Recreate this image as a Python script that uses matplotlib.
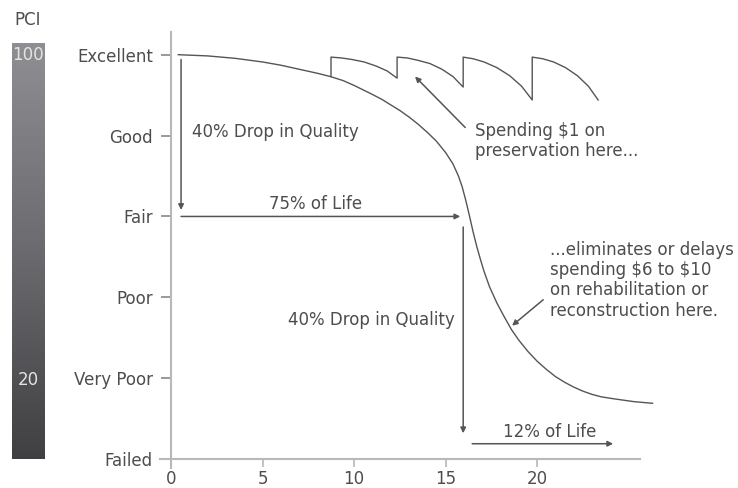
import numpy as np
import matplotlib
matplotlib.use("Agg")
import matplotlib.pyplot as plt
from matplotlib.colors import LinearSegmentedColormap

plt.rcParams['font.family'] = 'DejaVu Sans'

# 포장 상태 등급 (y축)
grades = ["Failed", "Very Poor", "Poor", "Fair", "Good", "Excellent"]
grade_pos = [0, 1, 2, 3, 4, 5]
years = [0, 5, 10, 15, 20]

# 주 곡선: 시간(년) vs 상태
curve_x = [0.4, 2.0, 3.5, 5.0, 6.0, 7.0, 8.0, 8.7, 9.4, 10.0, 10.9, 11.5, 12.0, 12.5,
           13.0, 13.5, 14.0, 14.5, 15.0, 15.4, 15.7, 15.9, 16.1, 16.3, 16.5, 16.7,
           16.9, 17.1, 17.4, 17.8, 18.2, 18.6, 19.0, 19.5, 20.0, 20.5, 21.0, 21.5,
           22.0, 22.5, 23.0, 23.5, 24.2, 25.3, 26.3]
curve_y = [5.0, 4.985, 4.955, 4.91, 4.87, 4.82, 4.77, 4.73, 4.68, 4.62, 4.52, 4.45, 4.38, 4.31,
           4.23, 4.14, 4.04, 3.93, 3.79, 3.65, 3.50, 3.37, 3.20, 3.01, 2.81, 2.63,
           2.47, 2.32, 2.13, 1.93, 1.76, 1.60, 1.47, 1.33, 1.21, 1.11, 1.02, 0.95,
           0.89, 0.84, 0.80, 0.77, 0.745, 0.71, 0.69]

# 예방적 유지보수 톱니 곡선
saw_x = [8.74, 8.74, 9.3, 9.9, 10.55, 11.2, 11.8, 12.35,
         12.35, 12.9, 13.5, 14.15, 14.8, 15.4, 15.96,
         15.96, 16.5, 17.1, 17.8, 18.5, 19.15, 19.73,
         19.73, 20.3, 20.9, 21.55, 22.2, 22.8, 23.33]
saw_y = [4.73, 4.97, 4.96, 4.94, 4.91, 4.86, 4.80, 4.71,
         4.97, 4.96, 4.93, 4.89, 4.82, 4.73, 4.60,
         4.97, 4.95, 4.91, 4.84, 4.74, 4.61, 4.44,
         4.97, 4.95, 4.91, 4.84, 4.74, 4.61, 4.44]

# 화살표 (시작, 끝)
arrows = [
    ((0.55, 4.94), (0.55, 3.08)),
    ((0.55, 3.0), (15.8, 3.0)),
    ((15.96, 2.87), (15.96, 0.32)),
    ((16.45, 0.19), (24.15, 0.19)),
    ((16.07, 4.10), (13.33, 4.73)),
    ((20.33, 1.97), (18.63, 1.65)),
]

txt_col = "#4d4d4d"
line_col = "#555555"
axis_col = "#b8b8b8"

fig = plt.figure(figsize=(7.38, 4.88), dpi=100)
ax = fig.add_axes([160 / 738, 20 / 488, 498 / 738, 440 / 488])
ax.set_xlim(-0.6, 26.6)
ax.set_ylim(-0.11, 5.33)

ax.plot(curve_x, curve_y, color=line_col, lw=1.0)
ax.plot(saw_x, saw_y, color=line_col, lw=1.0)

for (x0, y0), (x1, y1) in arrows:
    ax.annotate("", xy=(x1, y1), xytext=(x0, y0),
                arrowprops=dict(arrowstyle="-|>", color=line_col, lw=1.1,
                                mutation_scale=8, shrinkA=0, shrinkB=0))

ax.text(1.15, 4.05, "40% Drop in Quality", fontsize=12, color=txt_col, va="center")
ax.text(7.9, 3.16, "75% of Life", fontsize=12, color=txt_col, va="center", ha="center")
ax.text(15.5, 1.72, "40% Drop in Quality", fontsize=12, color=txt_col, va="center", ha="right")
ax.text(20.7, 0.33, "12% of Life", fontsize=12, color=txt_col, va="center", ha="center")
ax.text(16.6, 3.93, "Spending \\$1 on\npreservation here...", fontsize=12, color=txt_col,
        va="center", linespacing=1.15)
ax.text(20.7, 2.21, "...eliminates or delays\nspending \\$6 to \\$10\non rehabilitation or\nreconstruction here.",
        fontsize=12, color=txt_col, va="center", linespacing=1.15)

# 축 스타일
for s in ["top", "right"]:
    ax.spines[s].set_visible(False)
ax.spines["left"].set_position(("data", 0))
ax.spines["bottom"].set_position(("data", 0))
ax.spines["left"].set_bounds(-0.11, 5.28)
ax.spines["bottom"].set_bounds(-0.6, 25.6)
for s in ["left", "bottom"]:
    ax.spines[s].set_color(axis_col)
    ax.spines[s].set_linewidth(1.5)

ax.set_yticks(grade_pos)
ax.set_yticklabels(grades)
ax.set_xticks(years)
ax.set_xticklabels([str(v) for v in years])
ax.tick_params(axis="y", direction="out", length=7, width=1.2, color="#888888",
               labelsize=12, labelcolor=txt_col, pad=6)
ax.tick_params(axis="x", direction="out", length=6, width=1.2, color=axis_col,
               labelsize=12, labelcolor=txt_col, pad=2)

# PCI 막대 (위: 밝은 회색, 아래: 짙은 회색)
bar_ax = fig.add_axes([12 / 738, (488 - 459) / 488, 33 / 738, 416 / 488])
cmap = LinearSegmentedColormap.from_list("pci", ["#404043", "#6b6b6f", "#8f8f93"])
bar_ax.imshow(np.linspace(1, 0, 256).reshape(-1, 1), aspect="auto", cmap=cmap)
bar_ax.axis("off")

fig.text(28 / 738, 1 - 20 / 488, "PCI", fontsize=12, color=txt_col, ha="center", va="center")
fig.text(28 / 738, 1 - 55 / 488, "100", fontsize=12, color="#e4e4e4", ha="center", va="center")
fig.text(28 / 738, 1 - 380 / 488, "20", fontsize=12, color="#e4e4e4", ha="center", va="center")

fig.savefig("out.png", dpi=100)
